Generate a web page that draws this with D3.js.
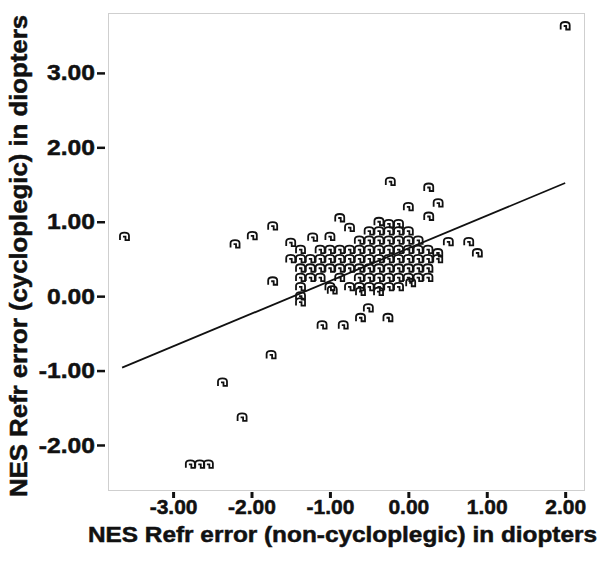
<!DOCTYPE html>
<html>
<head>
<meta charset="utf-8">
<script src="https://cdn.jsdelivr.net/npm/d3@7"></script>
<style>
  html, body { margin: 0; padding: 0; background: #fff; }
  svg { display: block; }
  text { font-family: "Liberation Sans", Arial, Helvetica, sans-serif; font-weight: bold; fill: #111; stroke: #111; stroke-width: 0.5px; }
</style>
</head>
<body>
<svg id="chart" width="604" height="565"></svg>
<script>
// ---- data (diopters) ----
const nonCyclo = [
  2.00, -3.62, -2.21, -1.99, -1.73, -1.73, -1.75, -2.37, -2.12, -2.78, -2.66, -2.55,
  -0.23, 0.26, 0.00, 0.38, 0.26, 0.51, 0.77, 0.88,
  -0.875, -0.375, -0.25, -0.125,
  -0.75, -0.5, -0.375, -0.25, -0.125, 0.0,
  -1.5, -1.22, -1.0, -0.625, -0.5, -0.375, -0.25, -0.125, 0.0, 0.125,
  -1.375, -1.125, -1.0, -0.875, -0.75, -0.625, -0.5, -0.375, -0.25, -0.125, 0.0, 0.125, 0.25, 0.375,
  -1.5, -1.375, -1.25, -1.125, -1.0, -0.875, -0.75, -0.625, -0.5, -0.375, -0.25, -0.125, 0.0, 0.125, 0.25, 0.375,
  -1.375, -1.25, -1.125, -1.0, -0.875, -0.75, -0.625, -0.5, -0.375, -0.25, -0.125, 0.0, 0.125, 0.25,
  -1.375, -1.25, -1.125, -0.875, -0.625, -0.5, -0.375, -0.25, -0.125, 0.0, 0.125, 0.25,
  -1.375, -1.0, -0.75, -0.625, -0.5, -0.375, -0.25, -0.125, 0.03,
  -1.375, -0.97, -0.61, -0.38, -1.375,
  -0.51, -0.61, -0.26, -0.83, -1.1
];
const cyclo = [
  3.63, 0.80, 0.70, 0.81, 0.94, 0.20, -0.79, -1.16, -1.63, -2.26, -2.26, -2.26,
  1.54, 1.46, 1.20, 1.25, 1.07, 0.73, 0.73, 0.58,
  1.05, 1.0, 0.97, 0.97,
  0.92, 0.875, 0.875, 0.875, 0.875, 0.875,
  0.72, 0.79, 0.80, 0.75, 0.75, 0.75, 0.75, 0.75, 0.75, 0.75,
  0.625, 0.625, 0.625, 0.625, 0.625, 0.625, 0.625, 0.625, 0.625, 0.625, 0.625, 0.625, 0.625, 0.58,
  0.5, 0.5, 0.5, 0.5, 0.5, 0.5, 0.5, 0.5, 0.5, 0.5, 0.5, 0.5, 0.5, 0.5, 0.5, 0.5,
  0.375, 0.375, 0.375, 0.375, 0.375, 0.375, 0.375, 0.375, 0.375, 0.375, 0.375, 0.375, 0.375, 0.375,
  0.25, 0.25, 0.25, 0.25, 0.25, 0.25, 0.25, 0.25, 0.25, 0.25, 0.25, 0.25,
  0.125, 0.125, 0.125, 0.125, 0.125, 0.125, 0.125, 0.125, 0.18,
  0.0, 0.08, 0.06, 0.06, -0.08,
  -0.16, -0.29, -0.29, -0.39, -0.39
];
const fitX = [-3.65, 2.00];
const fitY = [-0.96, 1.52];
const xTicks = [-3, -2, -1, 0, 1, 2];
const yTicks = [-2, -1, 0, 1, 2, 3];
const xTitle = "NES Refr error (non-cycloplegic) in diopters";
const yTitle = "NES Refr error (cycloplegic) in diopters";

// ---- layout ----
const svg = d3.select("#chart");
const plot = { left: 108, right: 584, top: 13, bottom: 490 };
const x = d3.scaleLinear().domain([-3.83, 2.24]).range([plot.left, plot.right]);
const y = d3.scaleLinear().domain([-2.605, 3.805]).range([plot.bottom, plot.top]);

// frame
svg.append("rect")
  .attr("x", plot.left + 0.5).attr("y", plot.top + 0.5)
  .attr("width", plot.right - plot.left).attr("height", plot.bottom - plot.top)
  .attr("fill", "none").attr("stroke", "#cfcfcf").attr("stroke-width", 1);

// axes
const fmt = d => d.toFixed(2);
const yAxis = svg.append("g").attr("transform", "translate(105,0)")
  .call(d3.axisLeft(y).tickValues(yTicks).tickSize(8).tickPadding(2).tickFormat(fmt));
yAxis.select(".domain").remove();
yAxis.selectAll(".tick line").attr("stroke", "#111").attr("stroke-width", 2.5);
yAxis.selectAll(".tick text").style("font-size", "22px").attr("fill", "#111")
  .attr("textLength", function() { return this.getComputedTextLength() * 1.12; })
  .attr("lengthAdjust", "spacingAndGlyphs");

const xAxis = svg.append("g").attr("transform", "translate(0,492)")
  .call(d3.axisBottom(x).tickValues(xTicks).tickSize(6).tickPadding(1).tickFormat(fmt));
xAxis.select(".domain").remove();
xAxis.selectAll(".tick line").attr("stroke", "#111").attr("stroke-width", 3);
xAxis.selectAll(".tick text").style("font-size", "21px").attr("fill", "#111");

// titles
svg.append("text")
  .attr("x", 342.5).attr("y", 542)
  .attr("text-anchor", "middle")
  .attr("textLength", 509).attr("lengthAdjust", "spacingAndGlyphs")
  .style("font-size", "22px")
  .text(xTitle);

svg.append("text")
  .attr("transform", "translate(27,256) rotate(-90)")
  .attr("text-anchor", "middle")
  .attr("textLength", 482).attr("lengthAdjust", "spacingAndGlyphs")
  .style("font-size", "23px")
  .text(yTitle);

// regression line
const fit = fitX.map((v, i) => [v, fitY[i]]);
svg.append("path")
  .attr("d", d3.line().x(d => x(d[0])).y(d => y(d[1]))(fit))
  .attr("fill", "none").attr("stroke", "#111").attr("stroke-width", 1.8);

// markers
const pts = nonCyclo.map((v, i) => [v, cyclo[i]]);
const glyph = "M-4.5,3.5V-1Q-4.5,-4,0,-4Q4.5,-4,4.5,-1V3.5H1V0H-1.5";
svg.append("g").selectAll("path")
  .data(pts).join("path")
  .attr("transform", d => `translate(${x(d[0])},${y(d[1])})`)
  .attr("d", glyph)
  .attr("fill", "none").attr("stroke", "#111").attr("stroke-width", 1.8);
</script>
</body>
</html>
